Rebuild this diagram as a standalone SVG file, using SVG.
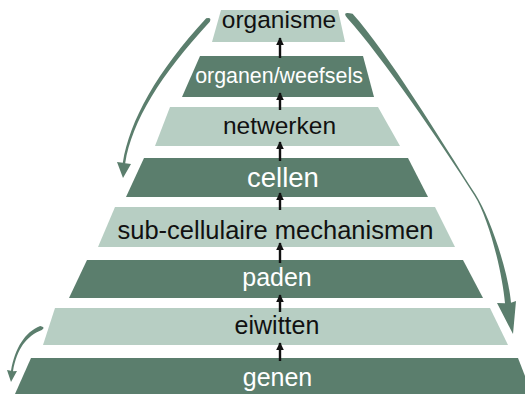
<svg xmlns="http://www.w3.org/2000/svg" width="525" height="394" viewBox="0 0 525 394">
<defs>
<style>
.dark{fill:#5b7e6d}
.light{fill:#b7cec3}
.lbl{font-family:"Liberation Sans",Arial,sans-serif;text-anchor:middle}
.w{fill:#ffffff}
.b{fill:#111111}
.up{stroke:#111111;stroke-width:2.4;fill:none;marker-end:url(#ah)}
.curve{fill:#5b7e6d}
</style>
<marker id="ah" viewBox="0 0 10 10" refX="9" refY="5" markerWidth="3.2" markerHeight="3.2" orient="auto" markerUnits="strokeWidth">
<path d="M0,0 L10,5 L0,10 Z" fill="#111111"/>
</marker>
</defs>
<rect width="525" height="394" fill="#ffffff"/>
<g id="n-organisme"><polygon class="light" points="221,10 338,10 345,42 212,42"/><text class="lbl b" x="279" y="28" font-size="24.5">organisme</text></g>
<g id="n-organen"><polygon class="dark" points="200,56 363,56 374,97 182,97"/><text class="lbl w" x="279" y="83" font-size="21.4">organen/weefsels</text></g>
<g id="n-netwerken"><polygon class="light" points="170,107 378,107 400,146 155,146"/><text class="lbl b" x="279.5" y="134" font-size="24.5">netwerken</text></g>
<g id="n-cellen"><polygon class="dark" points="144,158 408,158 428,197 126,197"/><text class="lbl w" x="283" y="187" font-size="27.5">cellen</text></g>
<g id="n-sub"><polygon class="light" points="115,207 435,207 455,247 98,247"/><text class="lbl b" x="275.5" y="239" font-size="25.5">sub-cellulaire mechanismen</text></g>
<g id="n-paden"><polygon class="dark" points="87,260 463,260 483,298 69,298"/><text class="lbl w" x="277" y="286" font-size="25">paden</text></g>
<g id="n-eiwitten"><polygon class="light" points="55,308 490,308 508,345 43,345"/><text class="lbl b" x="277" y="334" font-size="25">eiwitten</text></g>
<g id="n-genen"><polygon class="dark" points="31,358 518,358 532,394 15,394"/><text class="lbl w" x="277.5" y="386" font-size="25">genen</text></g>
<g id="connectors">
<line class="up" x1="280" y1="58" x2="280" y2="38"/>
<line class="up" x1="280" y1="110" x2="280" y2="93"/>
<line class="up" x1="280" y1="161" x2="280" y2="142"/>
<line class="up" x1="280" y1="210" x2="280" y2="193"/>
<line class="up" x1="280" y1="263" x2="280" y2="243"/>
<line class="up" x1="280" y1="312" x2="280" y2="295"/>
<line class="up" x1="280" y1="361" x2="280" y2="343"/>
<path class="curve" d="M206.2,18.3 C156.9,71.6 129.5,120.8 122.8,162.8 L117,162 L123,178 L131,164 L125.2,163.2 C131.9,121.2 160.5,75 209.8,21.7 Q212,17 206.2,18.3 Z"/>
<path class="curve" d="M352.6,13.7 C387.6,52.7 440.6,139.6 475.6,194.6 C489.6,216.6 508,269.7 511,302.7 L516,301 L513,334 L497,303 L505,303.3 C502,270.3 488.4,217.4 474.4,195.4 C439.4,140.4 382.4,57.3 347.4,18.3 Q341,11 352.6,13.7 Z"/>
<path class="curve" d="M40.2,326 C24.9,332 15,348.1 11,370.8 L7,370 L11,382 L17,371 L13,371.2 C17,348.5 26.5,336 41.8,330 Q46,327 40.2,326 Z"/>
</g>
</svg>
